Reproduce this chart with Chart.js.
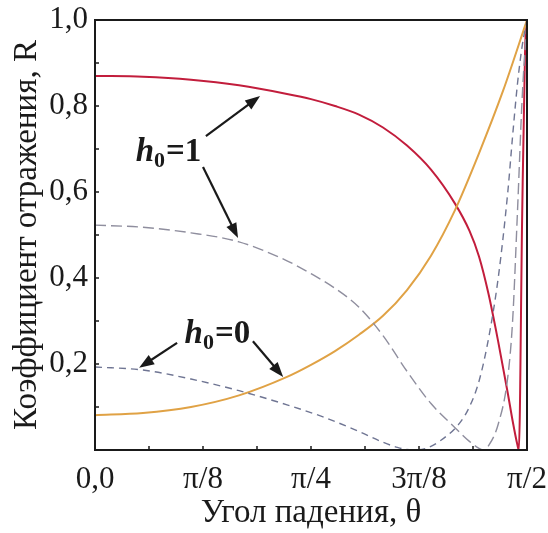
<!DOCTYPE html>
<html>
<head>
<meta charset="utf-8">
<script src="https://cdn.jsdelivr.net/npm/chart.js@4.4.0/dist/chart.umd.min.js"></script>
<style>
  html, body { margin: 0; padding: 0; background: #fff; }
  #wrap { width: 548px; height: 533px; }
</style>
</head>
<body>
<div id="wrap"><canvas id="chart"></canvas></div>
<script>
// angle of incidence in degrees (0 .. 90 = pi/2), reflection coefficient R
const ANGLE_LABELS = ['0,0', 'π/8', 'π/4', '3π/8', 'π/2']

// h0 = 1, solid red
const redX = [0, 10, 20, 30, 40, 45, 50, 55, 60, 65, 70, 75, 78, 80, 82, 84, 86, 87, 88, 88.3, 89, 89.6, 90]
const redY = [0.870, 0.868, 0.861, 0.848, 0.828, 0.816, 0.800, 0.780, 0.750, 0.708, 0.652, 0.573, 0.510, 0.450, 0.362, 0.252, 0.132, 0.068, 0.012, 0, 0.55, 0.93, 1.0]

// h0 = 0, solid orange
const orangeX = [0, 10, 20, 30, 40, 45, 50, 55, 60, 65, 70, 75, 80, 85, 90]
const orangeY = [0.081, 0.086, 0.100, 0.127, 0.170, 0.198, 0.230, 0.268, 0.312, 0.372, 0.452, 0.558, 0.690, 0.835, 1.0]

// h0 = 1, long dash grey
const greyX = [0, 10, 20, 30, 40, 45, 50, 55, 60, 65, 70, 75, 78, 80, 81, 82, 84, 86, 87, 88, 89, 90]
const greyY = [0.523, 0.518, 0.505, 0.484, 0.440, 0.410, 0.376, 0.332, 0.266, 0.183, 0.108, 0.052, 0.020, 0.004, 0, 0.010, 0.060, 0.170, 0.300, 0.550, 0.820, 1.0]

// h0 = 0, short dash blue-grey
const blueX = [0, 10, 20, 30, 40, 47.5, 55, 60, 63, 66, 69, 72, 76, 78, 80, 82, 84, 86, 87, 88, 89, 90]
const blueY = [0.193, 0.186, 0.165, 0.138, 0.105, 0.077, 0.043, 0.018, 0.006, 0, 0.004, 0.022, 0.063, 0.100, 0.160, 0.260, 0.400, 0.600, 0.730, 0.850, 0.940, 1.0]

// annotation anchors in data units [deg, R]
const notes = [
  { text: '1', at: [15.2, 0.698], arrows: [[[23.1, 0.730], [34.4, 0.823]], [[22.5, 0.658], [29.8, 0.493]]] },
  { text: '0', at: [25.4, 0.274], arrows: [[[17.1, 0.249], [9.2, 0.191]], [[32.9, 0.253], [39.2, 0.170]]] }
]

const zip = (xs, ys) => xs.map((x, i) => ({ x, y: ys[i] }))
const SERIF = "'Liberation Serif', 'DejaVu Serif', serif"
const INK = '#1a1a1a'

const frame = {
  id: 'frame',
  afterDraw(chart) {
    const { ctx, chartArea: a, scales: { x, y } } = chart
    ctx.save()
    ctx.strokeStyle = INK
    ctx.lineWidth = 2
    ctx.strokeRect(a.left, a.top, a.right - a.left, a.bottom - a.top)
    // inward ticks on left and bottom
    ctx.lineWidth = 1.5
    x.ticks.forEach(t => {
      const px = x.getPixelForValue(t.value)
      ctx.beginPath(); ctx.moveTo(px, a.bottom); ctx.lineTo(px, a.bottom - 4); ctx.stroke()
    })
    y.ticks.forEach(t => {
      const py = y.getPixelForValue(t.value)
      ctx.beginPath(); ctx.moveTo(a.left, py); ctx.lineTo(a.left + 4, py); ctx.stroke()
    })

    // h0 labels with arrows
    ctx.fillStyle = INK
    ctx.strokeStyle = INK
    notes.forEach(n => {
      const cx = x.getPixelForValue(n.at[0])
      const cy = y.getPixelForValue(n.at[1])
      const big = 'bold 33px ' + SERIF
      const bigI = 'italic bold 33px ' + SERIF
      const small = 'bold 22px ' + SERIF
      ctx.font = bigI; const wh = ctx.measureText('h').width
      ctx.font = small; const ws = ctx.measureText('0').width
      ctx.font = big; const wr = ctx.measureText('=' + n.text).width
      let px = cx - (wh + ws + wr) / 2
      ctx.textBaseline = 'alphabetic'
      ctx.textAlign = 'left'
      const base = cy + 11
      ctx.font = bigI; ctx.fillText('h', px, base); px += wh
      ctx.font = small; ctx.fillText('0', px, base + 6); px += ws + 1
      ctx.font = big; ctx.fillText('=' + n.text, px, base)

      n.arrows.forEach(([p, q]) => {
        const x1 = x.getPixelForValue(p[0]), y1 = y.getPixelForValue(p[1])
        const x2 = x.getPixelForValue(q[0]), y2 = y.getPixelForValue(q[1])
        const ang = Math.atan2(y2 - y1, x2 - x1)
        const hl = 15, hw = 5.5
        ctx.lineWidth = 2.2
        ctx.beginPath()
        ctx.moveTo(x1, y1)
        ctx.lineTo(x2 - Math.cos(ang) * hl * 0.8, y2 - Math.sin(ang) * hl * 0.8)
        ctx.stroke()
        ctx.beginPath()
        ctx.moveTo(x2, y2)
        ctx.lineTo(x2 - Math.cos(ang) * hl - Math.sin(ang) * hw, y2 - Math.sin(ang) * hl + Math.cos(ang) * hw)
        ctx.lineTo(x2 - Math.cos(ang) * hl + Math.sin(ang) * hw, y2 - Math.sin(ang) * hl - Math.cos(ang) * hw)
        ctx.closePath()
        ctx.fill()
      })
    })
    ctx.restore()
  }
}

const line = (data, color, width, dash) => ({
  data,
  borderColor: color,
  borderWidth: width,
  borderDash: dash,
  showLine: true,
  pointRadius: 0,
  cubicInterpolationMode: 'monotone',
  fill: false
})

new Chart(document.getElementById('chart'), {
  type: 'scatter',
  data: {
    datasets: [
      line(zip(greyX, greyY), '#8f8e9e', 1.4, [11, 5]),
      line(zip(blueX, blueY), '#6f7593', 1.4, [7, 5]),
      line(zip(orangeX, orangeY), '#e0a245', 2, []),
      line(zip(redX, redY), '#c21d3c', 2, [])
    ]
  },
  options: {
    responsive: true,
    maintainAspectRatio: false,
    animation: false,
    devicePixelRatio: 1,
    layout: { padding: { top: 20, right: 21, left: 0, bottom: 0 } },
    plugins: { legend: { display: false }, tooltip: { enabled: false } },
    scales: {
      x: {
        type: 'linear',
        min: 0,
        max: 90,
        afterFit: s => { s.height = 83; s.paddingLeft = 0; s.paddingRight = 0 },
        grid: { drawOnChartArea: false, drawTicks: false },
        border: { display: false },
        ticks: {
          stepSize: 11.25,
          autoSkip: false,
          maxRotation: 0,
          padding: 11,
          color: INK,
          font: { family: SERIF, size: 31 },
          callback: v => {
            const i = Math.round(v / 11.25)
            return i % 2 === 0 ? ANGLE_LABELS[i / 2] : ''
          }
        },
        title: {
          display: true,
          text: 'Угол падения, θ',
          color: INK,
          font: { family: SERIF, size: 33 },
          padding: { top: 0, bottom: 0 }
        }
      },
      y: {
        min: 0,
        max: 1,
        afterFit: s => { s.width = 95; s.paddingTop = 0; s.paddingBottom = 0 },
        grid: { drawOnChartArea: false, drawTicks: false },
        border: { display: false },
        ticks: {
          stepSize: 0.1,
          padding: 7,
          color: INK,
          font: { family: SERIF, size: 31 },
          callback: v => {
            const i = Math.round(v * 10)
            return i > 0 && i % 2 === 0 ? (i / 10).toFixed(1).replace('.', ',') : ''
          }
        },
        title: {
          display: true,
          text: 'Коэффициент отражения, R',
          color: INK,
          font: { family: SERIF, size: 33 },
          padding: { top: 8, bottom: 0 }
        }
      }
    }
  },
  plugins: [frame]
})
</script>
</body>
</html>
